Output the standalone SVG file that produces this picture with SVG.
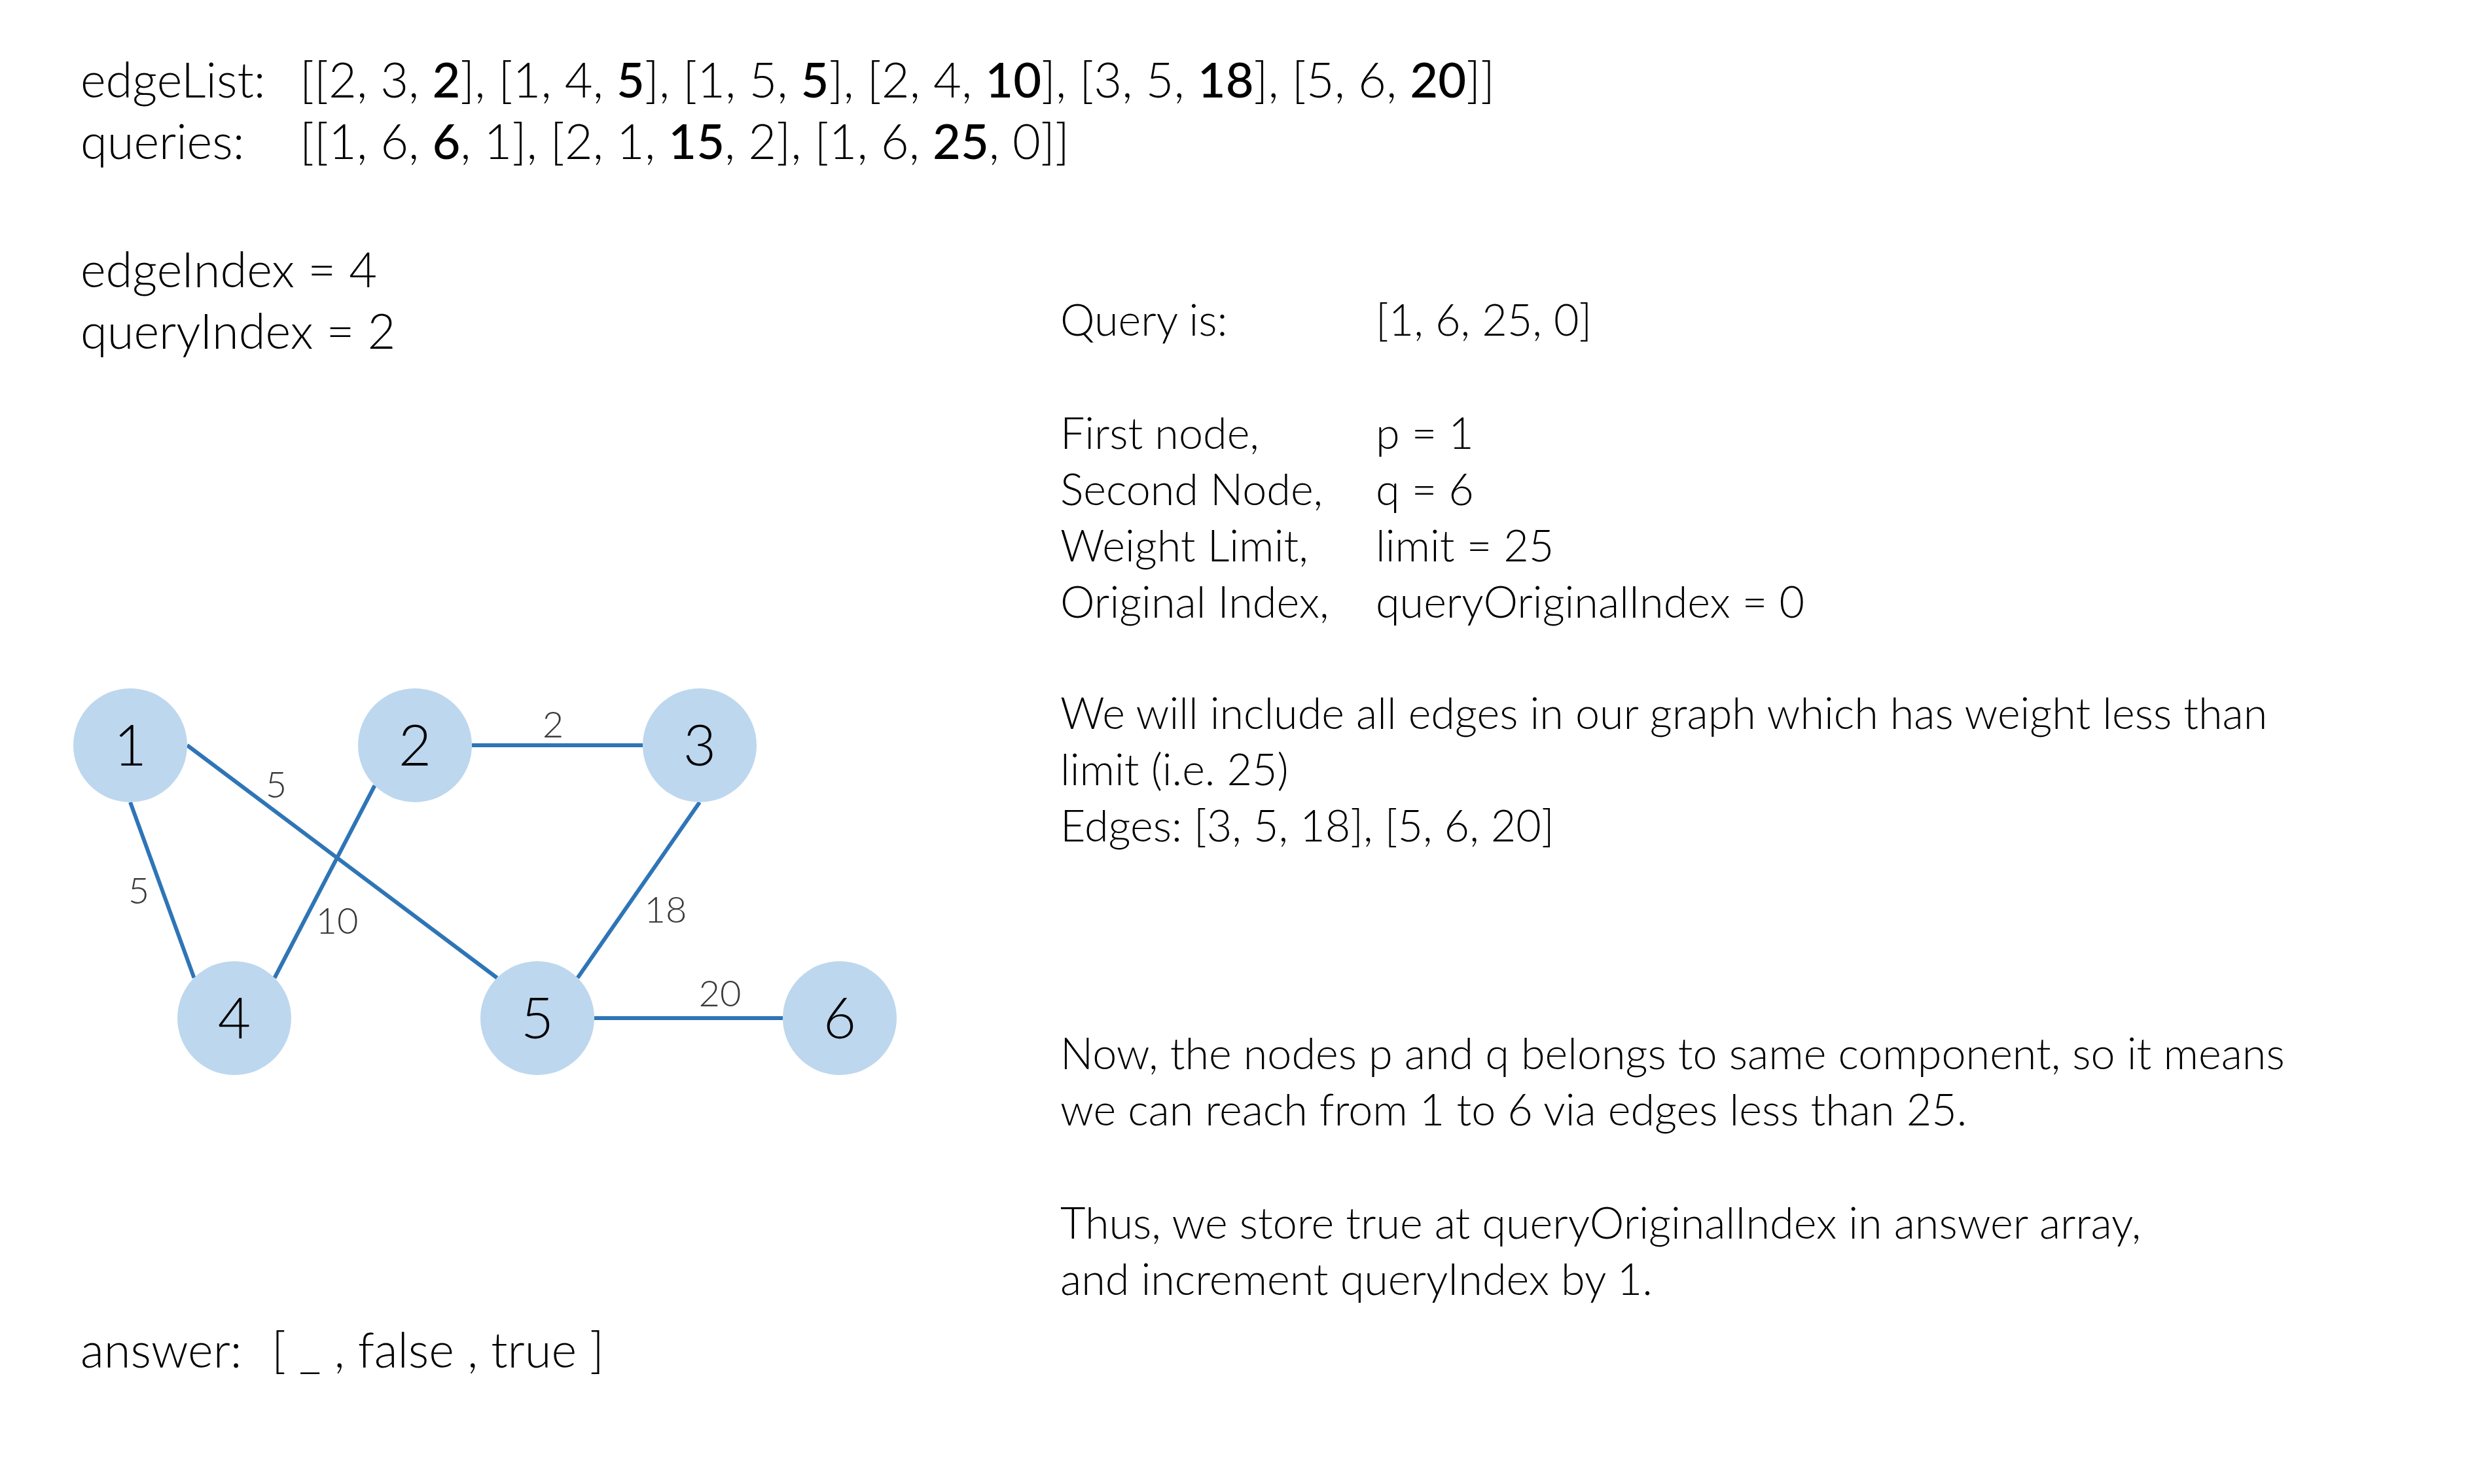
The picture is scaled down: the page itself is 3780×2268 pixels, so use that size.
<svg xmlns="http://www.w3.org/2000/svg" width="3780" height="2268" viewBox="0 0 3780 2268">
<style>
text { font-family: Lato, "Open Sans", "Liberation Sans", sans-serif; font-weight: 300; fill: #000; white-space: pre; }
.l { font-size: 74px; }
.r { font-size: 66.5px; }
.b { font-weight: 500; }
.node circle { fill: #BDD7EE; }
.node text { font-size: 87px; text-anchor: middle; }
.edge { stroke: #2E75B6; stroke-width: 6; fill: none; }
.w { font-size: 56px; fill: #3A3A3A; text-anchor: middle; }
</style>
<rect width="3780" height="2268" fill="#fff"/>

<g id="header">
<text class="l" x="123" y="149">edgeList:</text>
<text class="l" x="458" y="149">[[2, 3, <tspan class="b">2</tspan>], [1, 4, <tspan class="b">5</tspan>], [1, 5, <tspan class="b">5</tspan>], [2, 4, <tspan class="b">10</tspan>], [3, 5, <tspan class="b">18</tspan>], [5, 6, <tspan class="b">20</tspan>]]</text>
<text class="l" x="123" y="243">queries:</text>
<text class="l" x="458" y="243">[[1, 6, <tspan class="b">6</tspan>, 1], [2, 1, <tspan class="b">15</tspan>, 2], [1, 6, <tspan class="b">25</tspan>, 0]]</text>
<text class="l" x="123" y="439">edgeIndex = 4</text>
<text class="l" x="123" y="533">queryIndex = 2</text>
<text class="l" x="123" y="2090">answer:</text>
<text class="l" x="415" y="2090">[ _ , false , true ]</text>
</g>

<g id="explanation">
<text class="r" x="1620" y="513">Query is:</text>
<text class="r" x="2102" y="513">[1, 6, 25, 0]</text>
<text class="r" x="1620" y="686">First node,</text>
<text class="r" x="2102" y="686">p = 1</text>
<text class="r" x="1620" y="772">Second Node,</text>
<text class="r" x="2102" y="772">q = 6</text>
<text class="r" x="1620" y="858">Weight Limit,</text>
<text class="r" x="2102" y="858">limit = 25</text>
<text class="r" x="1620" y="944">Original Index,</text>
<text class="r" x="2102" y="944">queryOriginalIndex = 0</text>
<text class="r" x="1620" y="1114">We will include all edges in our graph which has weight less than</text>
<text class="r" x="1620" y="1200">limit (i.e. 25)</text>
<text class="r" x="1620" y="1286">Edges: [3, 5, 18], [5, 6, 20]</text>
<text class="r" x="1620" y="1634">Now, the nodes p and q belongs to same component, so it means</text>
<text class="r" x="1620" y="1720">we can reach from 1 to 6 via edges less than 25.</text>
<text class="r" x="1620" y="1893">Thus, we store true at queryOriginalIndex in answer array,</text>
<text class="r" x="1620" y="1979">and increment queryIndex by 1.</text>
</g>

<g id="connectors">
<line id="e1-5" class="edge" x1="286" y1="1139" x2="759.5" y2="1494.5"/>
<line id="e1-4" class="edge" x1="199" y1="1226" x2="296.5" y2="1494.5"/>
<line id="e2-4" class="edge" x1="572.5" y1="1200.5" x2="419.5" y2="1494.5"/>
<line id="e2-3" class="edge" x1="721" y1="1139" x2="982" y2="1139"/>
<line id="e3-5" class="edge" x1="1069" y1="1226" x2="882.5" y2="1494.5"/>
<line id="e5-6" class="edge" x1="908" y1="1556" x2="1196" y2="1556"/>
<text class="w" x="845" y="1127">2</text>
<text class="w" x="422" y="1219">5</text>
<text class="w" x="212" y="1381">5</text>
<text class="w" x="515" y="1427">10</text>
<text class="w" x="1017" y="1410">18</text>
<text class="w" x="1100" y="1538">20</text>
</g>

<g id="node1" class="node"><circle cx="199" cy="1139" r="87"/><text x="199" y="1170">1</text></g>
<g id="node2" class="node"><circle cx="634" cy="1139" r="87"/><text x="634" y="1170">2</text></g>
<g id="node3" class="node"><circle cx="1069" cy="1139" r="87"/><text x="1069" y="1170">3</text></g>
<g id="node4" class="node"><circle cx="358" cy="1556" r="87"/><text x="358" y="1587">4</text></g>
<g id="node5" class="node"><circle cx="821" cy="1556" r="87"/><text x="821" y="1587">5</text></g>
<g id="node6" class="node"><circle cx="1283" cy="1556" r="87"/><text x="1283" y="1587">6</text></g>
</svg>
